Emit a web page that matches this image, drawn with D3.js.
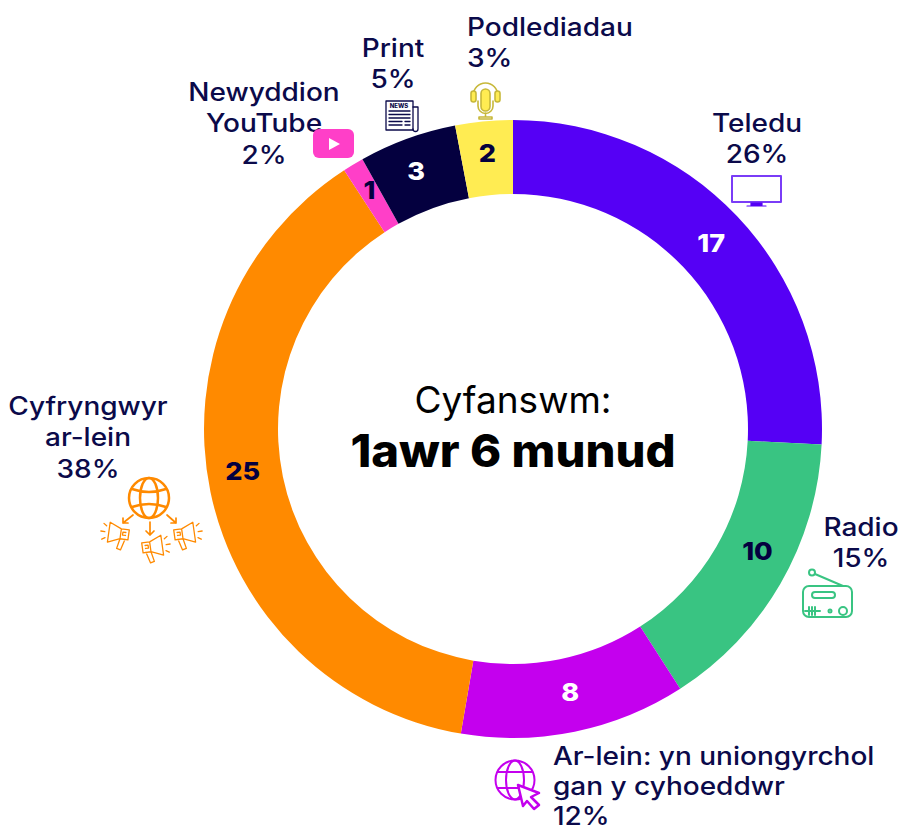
<!DOCTYPE html>
<html>
<head>
<meta charset="utf-8">
<script src="https://cdn.jsdelivr.net/npm/d3@7"></script>
<style>
  html, body { margin: 0; padding: 0; background: #fff; }
  svg { display: block; }
  text { font-family: Inter, "Open Sans", sans-serif; }
</style>
</head>
<body>
<div id="chart"></div>
<script>
const categories = ["Teledu", "Radio", "Ar-lein: yn uniongyrchol gan y cyhoeddwr", "Cyfryngwyr ar-lein", "Newyddion YouTube", "Print", "Podlediadau"];
const minutes = [17, 10, 8, 25, 1, 3, 2];
const shareLabels = ["26%", "15%", "12%", "38%", "2%", "5%", "3%"];
// slice sizes (% of the circle)
const sliceSizes = [25.8, 15.1, 11.8, 38.1, 1.1, 5.1, 3.0];
const sliceColors = ["#5500f5", "#39c482", "#c400ee", "#ff8a00", "#ff3fc8", "#04003f", "#ffec52"];
const valueColors = ["#ffffff", "#04003f", "#ffffff", "#04003f", "#04003f", "#ffffff", "#04003f"];

const width = 903, height = 832;
const cx = 513, cy = 429, outerR = 309, innerR = 235;
const navy = "#0b0a4a";
const textStretch = 1.12; // original font is wider than Inter

const svg = d3.select("#chart").append("svg")
    .attr("width", width)
    .attr("height", height)
    .attr("viewBox", [0, 0, width, height]);

const pie = d3.pie().sort(null).value(d => d);
const arc = d3.arc().innerRadius(innerR).outerRadius(outerR);
const arcs = pie(sliceSizes);

const ring = svg.append("g").attr("transform", `translate(${cx},${cy})`);

ring.selectAll("path")
    .data(arcs)
    .join("path")
    .attr("d", arc)
    .attr("fill", (d, i) => sliceColors[i]);

// Value labels sit near the centroid, the original nudges some of them
const valueNudge = [[1, 1], [9, -14], [3, -4], [-4, -13], [-3, -6], [-4, -2], [0, -5]];

ring.selectAll("text")
    .data(arcs)
    .join("text")
    .attr("transform", (d, i) => {
        const [x, y] = arc.centroid(d);
        return `translate(${x + valueNudge[i][0]},${y + valueNudge[i][1]}) scale(1.08,1)`;
    })
    .attr("text-anchor", "middle")
    .attr("dy", "0.36em")
    .attr("font-size", 25)
    .attr("font-weight", 800)
    .attr("fill", (d, i) => valueColors[i])
    .text((d, i) => minutes[i]);

// Centre total
svg.append("text")
    .attr("x", 513).attr("y", 413)
    .attr("text-anchor", "middle")
    .attr("font-size", 37)
    .attr("fill", "#000")
    .text("Cyfanswm:");
svg.append("text")
    .attr("transform", "translate(513,467) scale(1.05,1)")
    .attr("text-anchor", "middle")
    .attr("font-size", 45)
    .attr("font-weight", 800)
    .attr("fill", "#000")
    .text("1awr 6 munud");

// Outer labels, split by hand to follow the original line breaks
// [lines, x, y, anchor, line height]
const labelLines = [
    [["Teledu", shareLabels[0]], 757, 132, "middle", 31.5],
    [["Radio", shareLabels[1]], 861, 536, "middle", 31.5],
    [["Ar-lein: yn uniongyrchol", "gan y cyhoeddwr", shareLabels[2]], 553, 765, "start", 30],
    [["Cyfryngwyr", "ar-lein", shareLabels[3]], 88, 415, "middle", 31.5],
    [["Newyddion", "YouTube", shareLabels[4]], 264, 101, "middle", 31.5],
    [["Print", shareLabels[5]], 393, 57, "middle", 31.5],
    [["Podlediadau", shareLabels[6]], 467, 36, "start", 31.5]
];

labelLines.forEach(([lines, x, y, anchor, lineHeight]) => {
    svg.append("text")
        .attr("transform", `translate(${x},${y}) scale(${textStretch},1)`)
        .attr("text-anchor", anchor)
        .attr("font-size", 25)
        .attr("font-weight", 500)
        .attr("fill", navy)
        .selectAll("tspan")
        .data(lines)
        .join("tspan")
        .attr("x", 0)
        .attr("y", (d, i) => i * lineHeight)
        .text(d => d);
});

// Icons
function icon(x, y, color, sw = 2) {
    return svg.append("g")
        .attr("transform", `translate(${x},${y})`)
        .attr("fill", "none")
        .attr("stroke", color)
        .attr("stroke-width", sw)
        .attr("stroke-linecap", "round")
        .attr("stroke-linejoin", "round");
}

// Teledu
const tv = icon(732, 176, "#7a3cf7");
tv.append("rect").attr("width", 49).attr("height", 26);
tv.append("path").attr("d", "M19 27h11v2h-11z M15 30h19").attr("fill", sliceColors[0]).attr("stroke", sliceColors[0]).attr("stroke-width", 1.2);

// Radio
const radio = icon(803, 570, sliceColors[1]);
radio.append("rect").attr("x", 0).attr("y", 16).attr("width", 49).attr("height", 31).attr("rx", 6);
radio.append("circle").attr("cx", 9).attr("cy", 2.5).attr("r", 3);
radio.append("path").attr("d", "M12 4 L40 16");
radio.append("rect").attr("x", 9).attr("y", 22).attr("width", 23).attr("height", 6).attr("rx", 3);
radio.append("path").attr("d", "M2 41h15 M6 37v8 M9 37v8 M12 37v8");
radio.append("circle").attr("cx", 27).attr("cy", 41).attr("r", 1.5);
radio.append("circle").attr("cx", 40).attr("cy", 41).attr("r", 4);

// Ar-lein globe + cursor
const globeClick = icon(495, 760, sliceColors[2]);
globeClick.append("circle").attr("cx", 20).attr("cy", 20).attr("r", 19.5);
globeClick.append("ellipse").attr("cx", 20).attr("cy", 20).attr("rx", 9).attr("ry", 19.5);
globeClick.append("path").attr("d", "M3 12h34 M3 28h24");
globeClick.append("path").attr("d", "M23 25 L44 33 L36 37 L44 45 L39 49 L32 41 L28 46 Z").attr("fill", "#fff").attr("stroke-width", 2.5);

// Cyfryngwyr globe + megaphones
const globe = icon(129, 478, sliceColors[3], 2.5);
globe.append("circle").attr("cx", 20).attr("cy", 20).attr("r", 20);
globe.append("ellipse").attr("cx", 20).attr("cy", 20).attr("rx", 9).attr("ry", 20);
globe.append("path").attr("d", "M3 11q17 6 34 0 M3 29q17 -6 34 0");
globe.append("path")
    .attr("stroke-width", 1.7)
    .attr("d", "M4 37 L-6 45 M-6 40v5h5 M21 44v13 M17 53l4 4l4 -4 M38 37 L47 45 M47 40v5h-5");

function megaphone(x, y, flip, angle) {
    const m = globe.append("g")
        .attr("transform", `translate(${x},${y}) rotate(${angle}) scale(${flip},1)`)
        .attr("stroke-width", 1.3);
    m.append("path").attr("d", "M0 5 H8 L20 0 V20 L8 15 H0 Z M8 5 V15 M3 15 L6 26 L10 25 L8 15");
    m.append("path").attr("d", "M3 8h3v3h-3");
    m.append("path").attr("d", "M24 10h4 M23 4l3 -2 M23 16l3 2");
}
megaphone(1, 47, -1, 8);
megaphone(12, 60, 1, -8);
megaphone(44, 47, 1, -8);

// YouTube
const yt = svg.append("g").attr("transform", "translate(313,129)");
yt.append("rect").attr("width", 41).attr("height", 29).attr("rx", 6).attr("fill", sliceColors[4]);
yt.append("path").attr("d", "M16 9 L27 15 L16 21 Z").attr("fill", "#fff");

// Print
const paper = icon(386, 100, navy, 1.3);
paper.append("rect").attr("x", 0).attr("y", 1).attr("width", 27).attr("height", 29);
paper.append("path").attr("d", "M27 7h5v22a1.5 1.5 0 0 1 -5 0");
paper.append("text")
    .attr("x", 13).attr("y", 8)
    .attr("text-anchor", "middle")
    .attr("font-size", 6)
    .attr("font-weight", 800)
    .attr("stroke", "none")
    .attr("fill", navy)
    .text("NEWS");
paper.append("path").attr("d", "M3 11h21 M3 14.5h21 M3 18h21 M3 21.5h13 M3 25h13 M19 21.5h5 M19 25h5");

// Podlediadau
const mic = icon(470, 79, "#c7b83a", 1.6);
mic.append("path").attr("d", "M3 17 A12.5 13 0 0 1 28 17");
mic.append("rect").attr("x", 1).attr("y", 12).attr("width", 5).attr("height", 11).attr("rx", 2.5).attr("fill", sliceColors[6]);
mic.append("rect").attr("x", 25).attr("y", 12).attr("width", 5).attr("height", 11).attr("rx", 2.5).attr("fill", sliceColors[6]);
mic.append("rect").attr("x", 11).attr("y", 10).attr("width", 9).attr("height", 22).attr("rx", 4.5).attr("fill", sliceColors[6]);
mic.append("path").attr("d", "M8 22v5a7.5 7.5 0 0 0 15 0v-5 M15.5 34v3 M9 38h13v2h-13z");
</script>
</body>
</html>
